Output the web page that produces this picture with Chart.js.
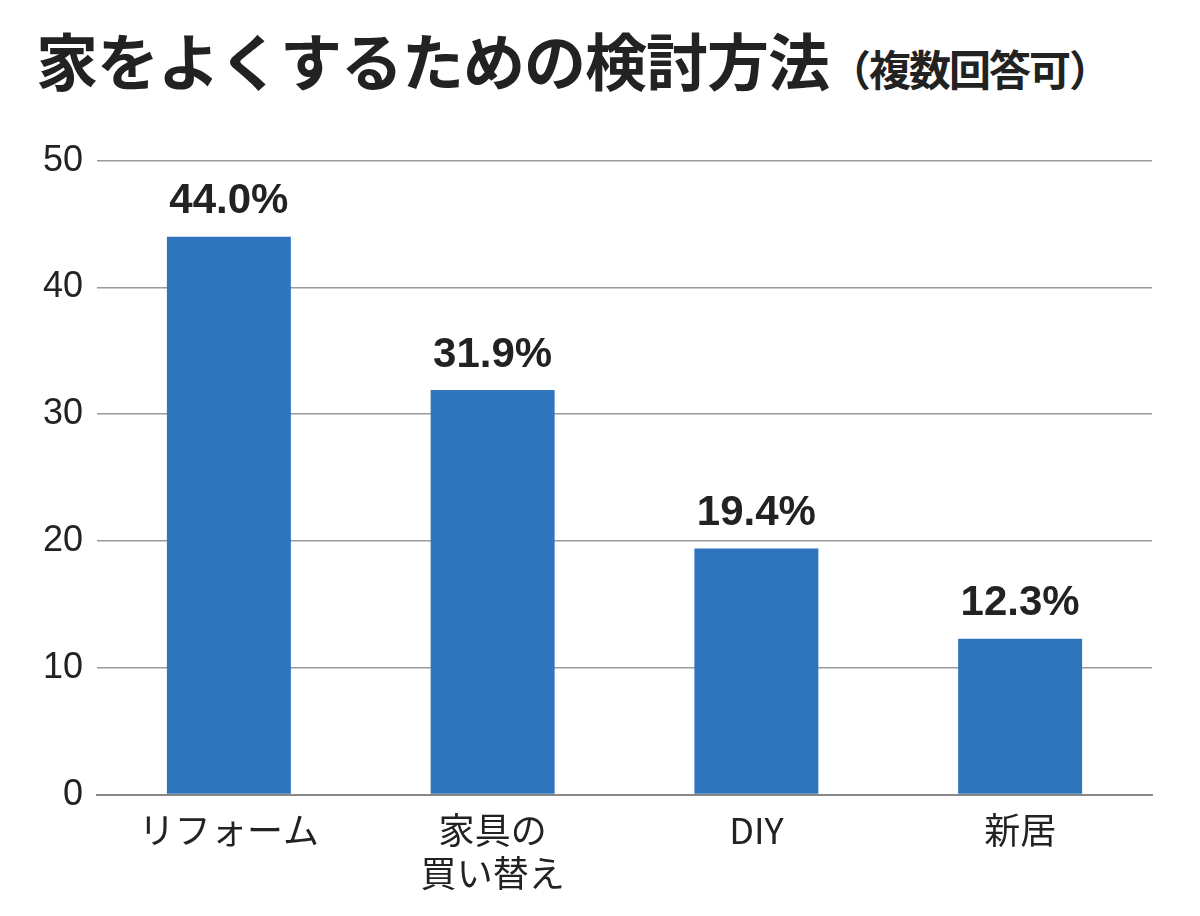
<!DOCTYPE html>
<html><head><meta charset="utf-8">
<script src="https://cdn.jsdelivr.net/npm/chart.js@4"></script>
<style>
body{margin:0;background:#fff;width:1200px;height:916px;overflow:hidden}
#title{height:125px;box-sizing:border-box;padding:14px 0 0 36px;font-family:"Noto Sans CJK JP";font-weight:700;color:#222;font-size:62px;letter-spacing:-1px;white-space:nowrap;line-height:90px}
#title span{font-size:42px;letter-spacing:-2px}
#wrap{width:1200px;height:791px;position:relative}
</style></head><body>
<div id="title">家をよくするための検討方法<span>（複数回答可）</span></div>
<div id="wrap"><canvas id="c"></canvas></div>
<script>
const categories = ['リフォーム', ['家具の', '買い替え'], 'DIY', '新居']
const values = [44.0, 31.9, 19.4, 12.3]
const labelText = ['44.0%', '31.9%', '19.4%', '12.3%']

const valueLabels = {
    id: 'valueLabels',
    afterDatasetsDraw(chart) {
        const ctx = chart.ctx
        ctx.save()
        ctx.font = 'bold 42px "Liberation Sans"'
        ctx.fillStyle = '#222'
        ctx.textAlign = 'center'
        ctx.textBaseline = 'bottom'
        chart.getDatasetMeta(0).data.forEach((bar, i) => {
            ctx.fillText(labelText[i], bar.x, bar.y - 14)
        })
        ctx.restore()
    }
}

new Chart(document.getElementById('c'), {
    type: 'bar',
    data: {
        labels: categories,
        datasets: [{ data: values, backgroundColor: '#2e75bd', barPercentage: 0.94, categoryPercentage: 0.5 }]
    },
    options: {
        responsive: true,
        maintainAspectRatio: false,
        animation: false,
        layout: { padding: { top: 9, right: 48, bottom: 15 } },
        plugins: { legend: { display: false }, tooltip: { enabled: false } },
        scales: {
            x: {
                grid: { display: false },
                border: { color: '#888', width: 2 },
                ticks: { color: '#222', font: { family: 'Noto Sans CJK JP', size: 36 }, padding: 6, maxRotation: 0 }
            },
            y: {
                min: 0, max: 50,
                ticks: { stepSize: 10, color: '#222', font: { family: 'Liberation Sans', size: 36 }, padding: 14 },
                grid: { color: '#999', lineWidth: 1.5, drawTicks: false },
                border: { display: false },
                afterFit(axis) { axis.width = 97 }
            }
        }
    },
    plugins: [valueLabels]
})
</script>
</body></html>
